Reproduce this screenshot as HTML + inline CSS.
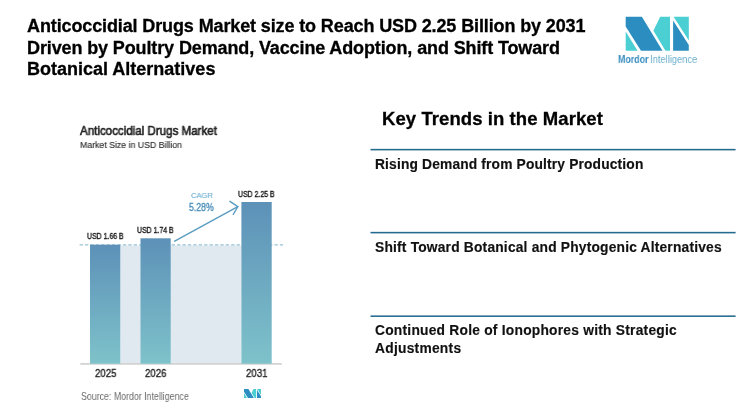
<!DOCTYPE html>
<html><head><meta charset="utf-8"><style>
*{margin:0;padding:0;box-sizing:border-box}
html,body{width:750px;height:412px;background:#fff;overflow:hidden}
body{position:relative;font-family:"Liberation Sans",sans-serif;color:#111}
.a{position:absolute;white-space:nowrap;line-height:1;will-change:transform}
.s{transform-origin:0 0}
.t{font-weight:bold;font-size:18px;color:#000;left:27.3px;letter-spacing:-0.12px;-webkit-text-stroke:0.3px #000}
.kt{font-weight:bold;font-size:18.5px;left:382.3px;top:109.6px;color:#000;letter-spacing:0.08px;-webkit-text-stroke:0.3px #000}
.it{font-weight:bold;font-size:13.8px;left:374.9px;color:#111;letter-spacing:0.15px;-webkit-text-stroke:0.15px #111}
.lb{font-size:8.2px;color:#111;-webkit-text-stroke:0.35px #111}
.yr{font-size:10.5px;color:#222;-webkit-text-stroke:0.35px #222}
</style></head><body>
<div class="a t" id="t1" style="top:16.7px">Anticoccidial Drugs Market size to Reach USD 2.25 Billion by 2031</div>
<div class="a t" id="t2" style="top:39px">Driven by Poultry Demand, Vaccine Adoption, and Shift Toward</div>
<div class="a t" id="t3" style="top:60.1px;letter-spacing:0">Botanical Alternatives</div>

<!-- logo -->
<svg class="a" style="left:0;top:0" width="750" height="60" viewBox="0 0 750 60">
  <polygon points="625.7,16.7 641.9,16.7 662.5,50.8 641,50.8 625.7,26.5" fill="#2c8ec0"/>
  <polygon points="625.7,31.5 625.7,50.8 637.5,50.8" fill="#4bcfd3"/>
  <polygon points="660.2,16.7 670,16.7 670,50.8 665.5,50.8 653.4,30.8" fill="#4bcfd3"/>
  <polygon points="673.6,16.7 688.8,16.7 688.8,40.5" fill="#4bcfd3"/>
  <polygon points="673.1,20.5 688.8,45 688.8,50.8 673.1,50.8" fill="#2c8ec0"/>
</svg>
<div class="a s" id="lm" style="left:617.6px;top:54.6px;font-size:10.4px;font-weight:bold;color:#3b8fbf;transform:scaleX(0.85)">Mordor</div>
<div class="a s" id="li" style="left:649.8px;top:54.6px;font-size:10.4px;color:#6cb0cb;transform:scaleX(0.9)">Intelligence</div>

<!-- chart -->
<div class="a s" id="ct" style="left:80px;top:124.5px;font-size:12.3px;color:#222;-webkit-text-stroke:0.6px #222;transform:scaleX(0.94)">Anticoccidial Drugs Market</div>
<div class="a s" id="cs" style="left:80px;top:140px;font-size:9.5px;color:#2e2e2e;-webkit-text-stroke:0.15px #2e2e2e;transform:scaleX(0.92)">Market Size in USD Billion</div>

<svg class="a" style="left:0;top:0" width="750" height="412">
  <defs><linearGradient id="bg" x1="0" y1="0" x2="0" y2="1" gradientUnits="objectBoundingBox"><stop offset="0" stop-color="#5d91b8"/><stop offset="1" stop-color="#7ec2ca"/></linearGradient></defs>
  <rect x="120.3" y="245.4" width="121.1" height="118" fill="#e0e9f0"/>
  <rect x="80.3" y="363" width="201.5" height="1.8" fill="#d4d4d4"/>
  <line x1="79.6" y1="244.8" x2="283" y2="244.8" stroke="#98c2d5" stroke-width="1.2" stroke-dasharray="3.3 2.114"/>
  <rect x="90" y="244.7" width="30.3" height="119" fill="url(#bg)"/>
  <rect x="140.5" y="238.3" width="30.2" height="125.4" fill="url(#bg)"/>
  <rect x="241.4" y="202" width="30.3" height="161.7" fill="url(#bg)"/>
</svg>
<svg class="a" style="left:0;top:0" width="750" height="412">
  <g fill="none" stroke="#5a9cc0" stroke-width="1.4" stroke-linecap="round" stroke-linejoin="round">
    <line x1="174.7" y1="241.2" x2="237.8" y2="206.7"/>
    <polyline points="229.9,201.3 237.8,206.7 233.2,214.5"/>
  </g>
</svg>
<div class="a s" id="cagr" style="left:191px;top:192px;font-size:8px;color:#6aabcf;-webkit-text-stroke:0.1px #6aabcf;transform:scaleX(0.95)">CAGR</div>
<div class="a s" id="pct" style="left:189px;top:201.6px;font-size:10.5px;color:#4289b7;-webkit-text-stroke:0.3px #4289b7;transform:scaleX(0.83)">5.28%</div>

<div class="a s lb" id="l1" style="left:86.5px;top:232.8px;transform:scaleX(0.845)">USD 1.66 B</div>
<div class="a s lb" id="l2" style="left:136.5px;top:226.8px;transform:scaleX(0.845)">USD 1.74 B</div>
<div class="a s lb" id="l3" style="left:237.7px;top:190.6px;transform:scaleX(0.845)">USD 2.25 B</div>

<div class="a s yr" id="y1" style="left:94.5px;top:367.7px;transform:scaleX(0.92)">2025</div>
<div class="a s yr" id="y2" style="left:145px;top:367.7px;transform:scaleX(0.92)">2026</div>
<div class="a s yr" id="y3" style="left:245.7px;top:367.7px;transform:scaleX(0.92)">2031</div>

<div class="a s" id="src" style="left:81.2px;top:391.5px;font-size:10.2px;color:#6a6a6a;transform:scaleX(0.865)">Source: Mordor Intelligence</div>
<svg class="a" style="left:243.6px;top:389.1px" width="17.3" height="9.4" viewBox="625.7 16.7 63.1 34.1" preserveAspectRatio="none">
  <polygon points="625.7,16.7 641.9,16.7 662.5,50.8 641,50.8 625.7,26.5" fill="#2c8ec0"/>
  <polygon points="625.7,31.5 625.7,50.8 637.5,50.8" fill="#4bcfd3"/>
  <polygon points="660.2,16.7 670,16.7 670,50.8 665.5,50.8 653.4,30.8" fill="#4bcfd3"/>
  <polygon points="673.6,16.7 688.8,16.7 688.8,40.5" fill="#4bcfd3"/>
  <polygon points="673.1,20.5 688.8,45 688.8,50.8 673.1,50.8" fill="#2c8ec0"/>
</svg>

<!-- right -->
<div class="a kt" id="kt">Key Trends in the Market</div>
<svg class="a" style="left:0;top:0" width="750" height="412"><g fill="#236a8f"><rect x="370.5" y="148.85" width="365.1" height="1.55"/><rect x="370.5" y="231.85" width="365.1" height="1.55"/><rect x="370.5" y="315.4" width="365.1" height="1.55"/></g></svg>
<div class="a it" id="i1" style="top:158px">Rising Demand from Poultry Production</div>
<div class="a it" id="i2" style="top:241px;letter-spacing:0.19px">Shift Toward Botanical and Phytogenic Alternatives</div>
<div class="a it" id="i3" style="top:324px;letter-spacing:0.23px">Continued Role of Ionophores with Strategic</div>
<div class="a it" id="i4" style="top:342px;letter-spacing:0.25px">Adjustments</div>
</body></html>
